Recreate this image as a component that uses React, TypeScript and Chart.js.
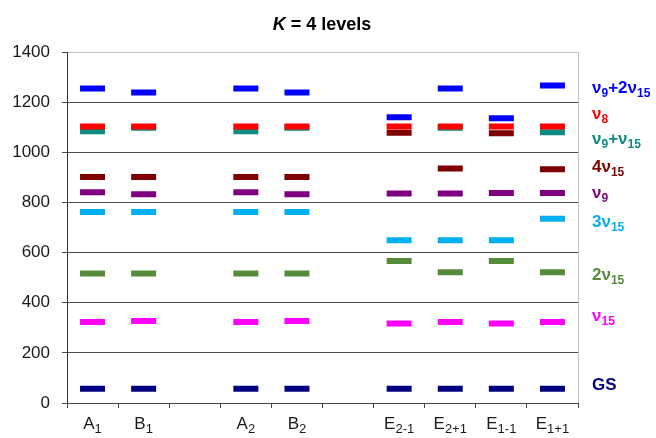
import React, { useEffect, useRef } from 'react';
import { Chart, registerables } from 'chart.js';

Chart.register(...registerables);

// Categories (subscripts written as _{...})
const categories = ['A_{1}', 'B_{1}', '', 'A_{2}', 'B_{2}', '', 'E_{2-1}', 'E_{2+1}', 'E_{1-1}', 'E_{1+1}'];

// Axis
const yMin = 0;
const yMax = 1400;
const yStep = 200;

// Level energies per category (cm^-1), null = not present
const gs = [57, 57, null, 57, 57, null, 57, 57, 57, 57];
const nu15 = [323, 327, null, 323, 327, null, 317, 323, 317, 323];
const twoNu15 = [517, 517, null, 517, 517, null, 566, 522, 566, 522];
const threeNu15 = [762, 762, null, 762, 762, null, 649, 649, 649, 735];
const nu9 = [841, 833, null, 841, 833, null, 836, 836, 838, 838];
const fourNu15 = [901, 901, null, 901, 901, null, 1078, 935, 1076, 932];
const nu9PlusNu15 = [1084, 1098, null, 1084, 1098, null, null, 1098, null, 1080];
const nu8 = [1103, 1103, null, 1103, 1103, null, 1103, 1103, 1103, 1103];
const nu9Plus2Nu15 = [1254, 1238, null, 1254, 1238, null, 1140, 1254, 1136, 1266];

// Level names (right side) and the level value each label sits at
const levelNames = ['ν_{9}+2ν_{15}', 'ν_{8}', 'ν_{9}+ν_{15}', '4ν_{15}', 'ν_{9}', '3ν_{15}', '2ν_{15}', 'ν_{15}', 'GS'];
const levelLabelAt = [1237, 1133, 1033, 921, 818, 702, 491, 327, 52];
const levelColors = ['#0000FF', '#FF0000', '#0E8A80', '#7F0000', '#7F007F', '#00B0F0', '#558B3A', '#FF00FF', '#000080'];

// draw order: first dataset ends up on top
const seriesData = [nu8, nu9Plus2Nu15, nu9PlusNu15, fourNu15, nu9, threeNu15, twoNu15, nu15, gs];
const seriesColorIdx = [1, 0, 2, 3, 4, 5, 6, 7, 8];

const FONT = "'Liberation Sans', Arial, sans-serif";

type Seg = { t: string; sub: boolean };
function parseRich(s: string): Seg[] {
  const out: Seg[] = [];
  const re = /_\{([^}]*)\}|[^_]+/g;
  let m: RegExpExecArray | null;
  while ((m = re.exec(s)) !== null) {
    if (m[1] !== undefined) out.push({ t: m[1], sub: true });
    else out.push({ t: m[0], sub: false });
  }
  return out;
}

function drawRich(
  ctx: CanvasRenderingContext2D,
  s: string,
  x: number,
  y: number,
  size: number,
  subSize: number,
  subDy: number,
  weight: string,
  color: string,
  align: 'left' | 'center'
) {
  const segs = parseRich(s);
  ctx.save();
  ctx.fillStyle = color;
  ctx.textBaseline = 'alphabetic';
  ctx.textAlign = 'left';
  let total = 0;
  const widths = segs.map((g) => {
    ctx.font = `${weight} ${g.sub ? subSize : size}px ${FONT}`;
    const w = ctx.measureText(g.t).width;
    total += w;
    return w;
  });
  let cx = align === 'center' ? x - total / 2 : x;
  segs.forEach((g, i) => {
    ctx.font = `${weight} ${g.sub ? subSize : size}px ${FONT}`;
    ctx.fillText(g.t, cx, g.sub ? y + subDy : y);
    cx += widths[i];
  });
  ctx.restore();
}

const decorPlugin = {
  id: 'decor',
  afterDraw(chart: any) {
    const ctx: CanvasRenderingContext2D = chart.ctx;
    const area = chart.chartArea;
    const xs = chart.scales.x;
    const ys = chart.scales.y;

    // right border of plot area
    ctx.save();
    ctx.strokeStyle = '#c0c0c0';
    ctx.lineWidth = 1;
    ctx.beginPath();
    ctx.moveTo(Math.round(area.right) + 0.5, area.top);
    ctx.lineTo(Math.round(area.right) + 0.5, area.bottom);
    ctx.stroke();
    ctx.restore();

    // title
    ctx.save();
    ctx.fillStyle = '#000';
    ctx.textBaseline = 'alphabetic';
    ctx.font = `italic bold 18px ${FONT}`;
    const k = 'K';
    const kw = ctx.measureText(k).width;
    ctx.font = `bold 18px ${FONT}`;
    const rest = ' = 4 levels';
    const rw = ctx.measureText(rest).width;
    const tx = 322 - (kw + rw) / 2;
    ctx.font = `italic bold 18px ${FONT}`;
    ctx.fillText(k, tx, 30);
    ctx.font = `bold 18px ${FONT}`;
    ctx.fillText(rest, tx + kw, 30);
    ctx.restore();

    // category labels with subscripts
    categories.forEach((c, i) => {
      if (!c) return;
      const px = xs.getPixelForValue(i);
      drawRich(ctx, c, px, area.bottom + 26, 17, 13, 4, 'normal', '#1a1a1a', 'center');
    });

    // level names on the right
    levelNames.forEach((n, i) => {
      const py = ys.getPixelForValue(levelLabelAt[i]);
      drawRich(ctx, n, area.right + 14, py, 17, 12, 4, 'bold', levelColors[i], 'left');
    });
  },
};

export default function App() {
  const ref = useRef<HTMLCanvasElement | null>(null);
  useEffect(() => {
    if (!ref.current) return;
    const chart = new Chart(ref.current, {
      type: 'line',
      data: {
        labels: categories.map((c, i) => c || ' '.repeat(i + 1)),
        datasets: seriesData.map((d, i) => ({
          label: levelNames[seriesColorIdx[i]],
          data: d,
          showLine: false,
          pointStyle: 'line',
          pointRadius: 12.5,
          pointHoverRadius: 12.5,
          pointBorderWidth: 6,
          pointHoverBorderWidth: 6,
          borderColor: levelColors[seriesColorIdx[i]],
          backgroundColor: levelColors[seriesColorIdx[i]],
        })),
      },
      options: {
        responsive: false,
        animation: false,
        events: [],
        layout: { padding: { top: 52, left: 0, right: 78, bottom: 0 } },
        plugins: {
          legend: { display: false },
          title: { display: false },
          tooltip: { enabled: false },
        },
        scales: {
          x: {
            type: 'category',
            offset: true,
            grid: {
              display: true,
              offset: true,
              drawOnChartArea: false,
              drawTicks: true,
              tickLength: 5,
              color: '#444',
              tickColor: '#444',
            },
            border: { display: true, color: '#444', width: 1 },
            ticks: { display: false },
            afterFit: (scale: any) => {
              scale.height = 35;
            },
          },
          y: {
            min: yMin,
            max: yMax,
            ticks: {
              stepSize: yStep,
              padding: 12,
              color: '#1a1a1a',
              font: { family: FONT, size: 17 },
              callback: (v: any) => String(v),
            },
            grid: {
              color: (c: any) => (c.tick && c.tick.value === yMax ? '#c0c0c0' : '#4a4a4a'),
              tickColor: '#4a4a4a',
              tickLength: 5,
              drawTicks: true,
            },
            border: { display: true, color: '#333', width: 1 },
            afterFit: (scale: any) => {
              scale.width = 67;
            },
          },
        },
      },
      plugins: [decorPlugin],
    });
    return () => chart.destroy();
  }, []);
  return (
    <div style={{ position: 'fixed', left: 0, top: 0, width: 656, height: 438, background: '#fff' }}>
      <canvas ref={ref} width={656} height={438} style={{ display: 'block' }} />
    </div>
  );
}
